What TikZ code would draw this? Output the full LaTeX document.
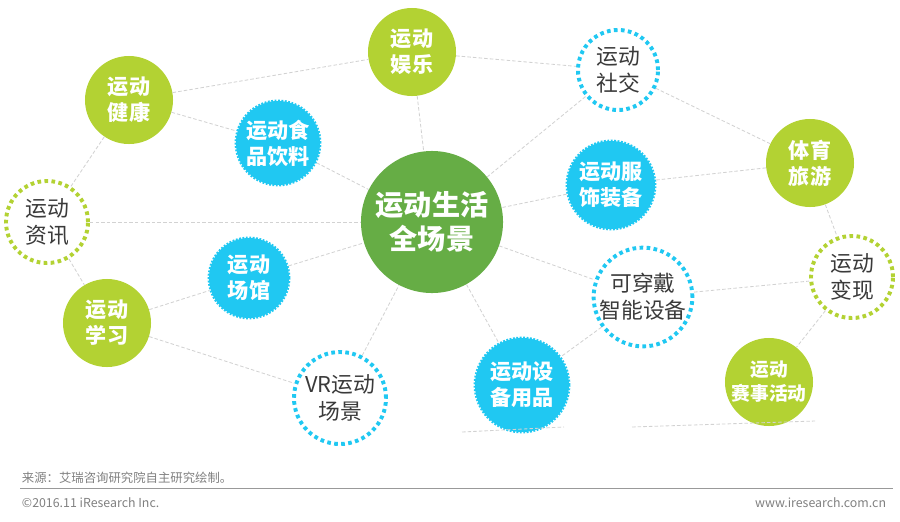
\documentclass[tikz,border=0pt]{standalone}
\usepackage{fontspec}
\usepackage{xcolor}
\usepackage{tikz}
\newfontfamily\cjk{Noto Sans CJK SC}
\definecolor{lime}{HTML}{B3D233}
\definecolor{hubgreen}{HTML}{66AD45}
\definecolor{sky}{HTML}{20C8F2}
\definecolor{ink}{HTML}{3A3A3A}
\definecolor{linkgray}{HTML}{D2D2D2}
\definecolor{footgray}{HTML}{808080}
\tikzset{
  ball/.style  = {circle, inner sep=0pt, align=center, text=white,
                  font=\cjk\bfseries\fontsize{15}{18.5}\selectfont},
  lime/.style  = {ball, fill=lime, minimum size=2.2cm},
  sky/.style   = {ball, fill=sky, draw=sky, line width=2pt,
                  dash pattern=on 1.3pt off 1.1pt, minimum size=2.1cm},
  ring/.style  = {circle, inner sep=0pt, align=center, text=ink, line width=2.8pt,
                  dash pattern=on 2.6pt off 2.4pt, minimum size=2.0cm,
                  font=\cjk\fontsize{15.5}{19}\selectfont},
  hub/.style   = {ball, fill=hubgreen, minimum size=3.55cm,
                  font=\cjk\bfseries\fontsize{20}{24}\selectfont},
  link/.style  = {draw=linkgray, line width=0.6pt, dash pattern=on 2.5pt off 1.5pt},
  foot/.style  = {anchor=west, text=footgray, font=\cjk\fontsize{8.8}{10}\selectfont},
}
\begin{document}
\begin{tikzpicture}[x=0.025cm, y=-0.025cm]
  \useasboundingbox (0,0) rectangle (900,521);
  % circles
  \node[hub] (life) at (432,222) {运动生活\\全场景};
  \node[lime] (fun) at (412,52) {运动\\娱乐};
  \node[lime] (health) at (129,100) {运动\\健康};
  \node[sky] (food) at (278,143) {运动食\\品饮料};
  \node[ring, draw=lime, minimum size=2.05cm] (news) at (47,222) {运动\\资讯};
  \node[sky, minimum size=2.0cm] (venue) at (249,278) {运动\\场馆};
  \node[lime] (learn) at (107,323) {运动\\学习};
  \node[ring, draw=sky, minimum size=2.3cm] (vr) at (340,398) {VR运动\\场景};
  \node[ring, draw=sky] (social) at (618,70) {运动\\社交};
  \node[sky, minimum size=2.2cm] (wear) at (611,185) {运动服\\饰装备};
  \node[lime] (trip) at (810,163) {体育\\旅游};
  \node[ring, draw=sky, minimum size=2.4cm] (smart) at (643,297) {可穿戴\\智能设备};
  \node[ring, draw=lime, minimum size=2.05cm] (cash) at (852,277) {运动\\变现};
  \node[sky, minimum size=2.35cm] (gear) at (522,385) {运动设\\备用品};
  \node[lime, font=\cjk\bfseries\fontsize{13.3}{17}\selectfont] (match) at (769,382) {运动\\赛事活动};
  % links
  \draw[link] (health) -- (fun);
  \draw[link] (health) -- (food);
  \draw[link] (food) -- (life);
  \draw[link] (health) -- (news);
  \draw[link] (news) -- (life);
  \draw[link] (news) -- (learn);
  \draw[link] (learn) -- (venue);
  \draw[link] (venue) -- (life);
  \draw[link] (learn) -- (vr);
  \draw[link] (vr) -- (life);
  \draw[link] (fun) -- (life);
  \draw[link] (fun) -- (social);
  \draw[link] (social) -- (life);
  \draw[link] (social) -- (trip);
  \draw[link] (wear) -- (life);
  \draw[link] (wear) -- (trip);
  \draw[link] (trip) -- (cash);
  \draw[link] (life) -- (smart);
  \draw[link] (life) -- (gear);
  \draw[link] (smart) -- (gear);
  \draw[link] (smart) -- (cash);
  \draw[link] (cash) -- (match);
  \coordinate (b1) at (462,432); \coordinate (b2) at (564,427);
  \coordinate (b3) at (632,427); \coordinate (b4) at (815,421);
  \draw[link] (b1) -- (b2);
  \draw[link] (b3) -- (b4);
  % footer
  \node[foot] (src) at (17,478) {来源：艾瑞咨询研究院自主研究绘制。};
  \coordinate (rl) at (20,488); \coordinate (rr) at (893,488);
  \draw[draw=black!40, line width=0.7pt] (rl) -- (rr);
  \node[foot] (copy) at (17,503) {©2016.11 iResearch Inc.};
  \node[foot, anchor=east] (web) at (891,503) {www.iresearch.com.cn};
\end{tikzpicture}
\end{document}
